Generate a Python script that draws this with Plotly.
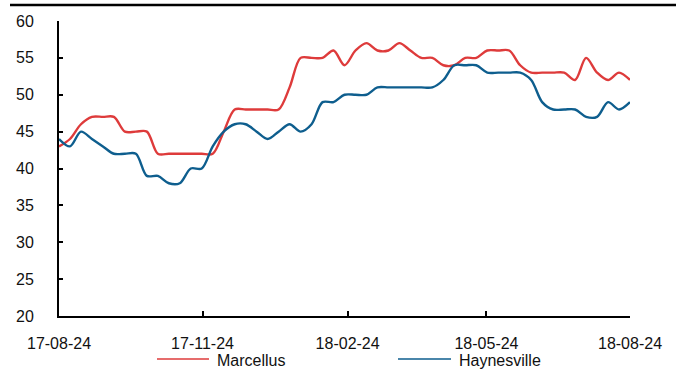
import pandas as pd
import plotly.graph_objects as go

# Weekly series, 17 Aug 2024 -> 18 Aug 2025
marcellus = [43, 44, 46, 47, 47, 47, 45, 45, 45, 42, 42, 42, 42, 42, 42, 45, 48, 48, 48, 48,
             48, 51, 55, 55, 55, 56, 54, 56, 57, 56, 56, 57, 56, 55, 55, 54, 54, 55, 55, 56,
             56, 56, 54, 53, 53, 53, 53, 52, 55, 53, 52, 53, 52]
haynesville = [44, 43, 45, 44, 43, 42, 42, 42, 39, 39, 38, 38, 40, 40, 43, 45, 46, 46, 45, 44,
               45, 46, 45, 46, 49, 49, 50, 50, 50, 51, 51, 51, 51, 51, 51, 52, 54, 54, 54, 53,
               53, 53, 53, 52, 49, 48, 48, 48, 47, 47, 49, 48, 49]

series_names = ["Marcellus", "Haynesville"]
series_colors = ["#DE3B3B", "#0E5E8E"]

start, end = "2024-08-17", "2025-08-18"
dates = pd.date_range(start, end, periods=len(marcellus))

tick_dates = ["2024-08-17", "2024-11-17", "2025-02-18", "2025-05-18", "2025-08-18"]
tick_text = ["17-08-24", "17-11-24", "18-02-24", "18-05-24", "18-08-24"]
y_ticks = [20, 25, 30, 35, 40, 45, 50, 55, 60]

FONT = "Liberation Sans, Arial, sans-serif"

fig = go.Figure()
for name, vals, col in zip(series_names, [marcellus, haynesville], series_colors):
    fig.add_trace(go.Scatter(
        x=dates, y=vals, name=name, mode="lines",
        line=dict(color=col, width=2.4, shape="spline", smoothing=0.9),
        showlegend=False,
    ))

# Plot area in pixels: x 59..630, y 21..316
W, H = 683, 376
L, R, T, B = 59, 53, 21, 60
pw, ph = W - L - R, H - T - B


def px_x(p):
    return (p - L) / pw


def px_y(p):
    return (H - B - p) / ph


shapes = [
    # rule across the top of the chart
    dict(type="line", xref="paper", yref="paper",
         x0=px_x(10), x1=px_x(676), y0=px_y(5), y1=px_y(5),
         line=dict(color="black", width=2.5)),
]
annotations = []

# legend row under the axis
legend_items = [(157, 209, 215), (398, 451, 457)]
for (lx0, lx1, tx), name, col in zip(legend_items, series_names, series_colors):
    shapes.append(dict(type="line", xref="paper", yref="paper",
                       x0=px_x(lx0), x1=px_x(lx1), y0=px_y(359), y1=px_y(359),
                       line=dict(color=col, width=1.5)))
    annotations.append(dict(xref="paper", yref="paper", x=px_x(tx), y=px_y(360),
                            text=name, showarrow=False, xanchor="left", yanchor="middle",
                            font=dict(family=FONT, size=16, color="#111")))

fig.update_layout(
    width=W, height=H, autosize=False,
    margin=dict(l=L, r=R, t=T, b=B, pad=0),
    paper_bgcolor="white", plot_bgcolor="white",
    font=dict(family=FONT, size=16, color="#111"),
    shapes=shapes, annotations=annotations,
    xaxis=dict(
        type="date", range=[start, end],
        tickmode="array", tickvals=tick_dates, ticktext=tick_text,
        showgrid=False, zeroline=False,
        showline=True, linecolor="black", linewidth=2,
        ticks="inside", ticklen=5, tickwidth=1.5, tickcolor="black",
        ticklabelstandoff=12,
        tickfont=dict(family=FONT, size=16, color="#111"),
    ),
    yaxis=dict(
        range=[20, 60], tickmode="array", tickvals=y_ticks,
        showgrid=False, zeroline=False,
        showline=True, linecolor="black", linewidth=2,
        ticks="inside", ticklen=4, tickwidth=1.5, tickcolor="black",
        ticklabelstandoff=20,
        tickfont=dict(family=FONT, size=16, color="#111"),
    ),
)

fig.write_html("out.html")
